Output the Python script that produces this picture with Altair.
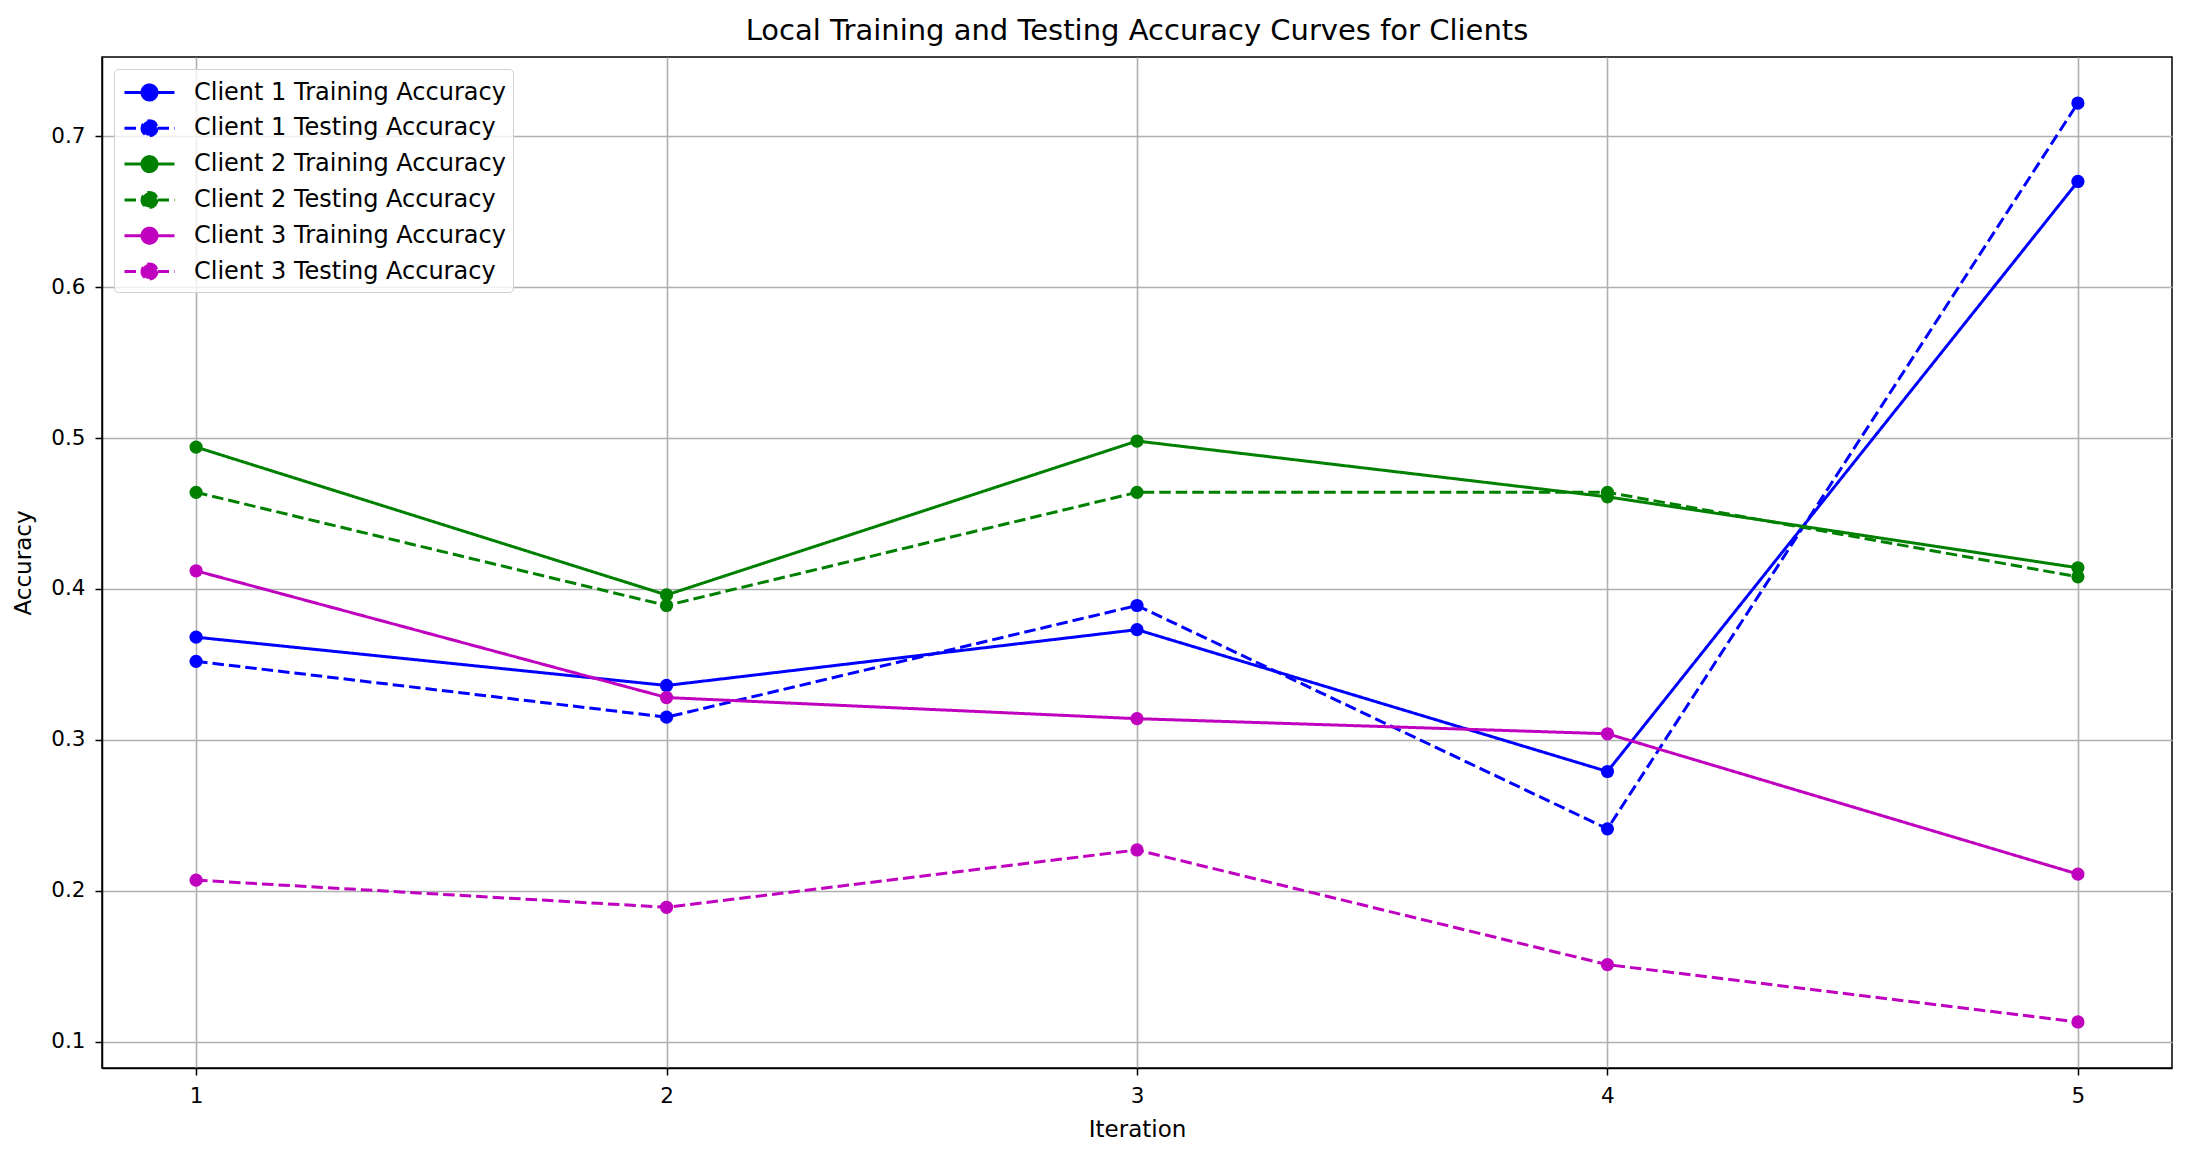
import altair as alt
import pandas as pd

iterations = [1, 2, 3, 4, 5]
series_names = [
    "Client 1 Training Accuracy",
    "Client 1 Testing Accuracy",
    "Client 2 Training Accuracy",
    "Client 2 Testing Accuracy",
    "Client 3 Training Accuracy",
    "Client 3 Testing Accuracy",
]
client1_train = [0.368, 0.336, 0.373, 0.279, 0.670]
client1_test = [0.352, 0.315, 0.389, 0.241, 0.722]
client2_train = [0.494, 0.396, 0.498, 0.461, 0.414]
client2_test = [0.464, 0.389, 0.464, 0.464, 0.408]
client3_train = [0.412, 0.328, 0.314, 0.304, 0.211]
client3_test = [0.207, 0.189, 0.227, 0.151, 0.113]

series_values = [client1_train, client1_test, client2_train, client2_test, client3_train, client3_test]
colors = ["#0000ff", "#0000ff", "#008000", "#008000", "#bf00bf", "#bf00bf"]
dashes = [[1, 0], [11.5, 5], [1, 0], [11.5, 5], [1, 0], [11.5, 5]]

rows = []
for name, vals in zip(series_names, series_values):
    for it, v in zip(iterations, vals):
        rows.append({"iteration": it, "accuracy": v, "series": name})
df = pd.DataFrame(rows)

FONT = "DejaVu Sans"
# line from -5/3 to 5/3 (50px at size 900), circle radius 0.5 (~7.5px)
sym_path = "M-1.667,0L1.667,0M0.5,0A0.5,0.5,0,1,1,-0.5,0A0.5,0.5,0,1,1,0.5,0Z"

legend = alt.Legend(
    title=None, orient="none", legendX=12, legendY=12,
    symbolType=sym_path, symbolSize=900, symbolStrokeWidth=3, symbolOffset=12,
    labelFontSize=24, labelFont=FONT, labelColor="#000000", labelOffset=28,
    fillColor="rgba(255,255,255,0.8)", strokeColor="#d0d0d0", cornerRadius=4,
    padding=7, rowPadding=5.8, labelLimit=0,
)

color_enc = alt.Color("series:N", scale=alt.Scale(domain=series_names, range=colors), legend=legend, sort=series_names)
dash_enc = alt.StrokeDash("series:N", scale=alt.Scale(domain=series_names, range=dashes), legend=legend, sort=series_names)

x_enc = alt.X("iteration:Q", title="Iteration",
              scale=alt.Scale(domain=[0.8, 5.2], nice=False, zero=False),
              axis=alt.Axis(values=iterations, format="d", titlePadding=12))
y_enc = alt.Y("accuracy:Q", title="Accuracy",
              scale=alt.Scale(domain=[0.0825, 0.7525], nice=False, zero=False),
              axis=alt.Axis(values=[0.1, 0.2, 0.3, 0.4, 0.5, 0.6, 0.7], format=".1f", titlePadding=15))

lines = alt.Chart(df).mark_line(strokeWidth=3).encode(
    x=x_enc, y=y_enc, color=color_enc, strokeDash=dash_enc,
)
points = alt.Chart(df).mark_point(filled=True, shape="circle", size=175, opacity=1, strokeWidth=0).encode(
    x=x_enc, y=y_enc, color=color_enc, strokeDash=dash_enc,
)

chart = alt.layer(lines, points).properties(
    width=2070, height=1011,
    title=alt.TitleParams("Local Training and Testing Accuracy Curves for Clients",
                          font=FONT, fontSize=29, fontWeight="normal", color="#000000",
                          anchor="middle", baseline="alphabetic", offset=15, dy=27, frame="group"),
    autosize=alt.AutoSizeParams(type="none"),
    padding={"left": 94, "top": 49, "right": 4, "bottom": 76},
).configure_axis(
    labelFont=FONT, labelFontSize=21.5, labelColor="#000000",
    titleFont=FONT, titleFontSize=23, titleFontWeight="normal", titleColor="#000000",
    domainColor="#000000", domainWidth=1.5,
    tickColor="#000000", tickWidth=1.5, tickSize=7, labelPadding=10,
    grid=True, gridColor="#b0b0b0", gridWidth=1.6,
).configure_view(stroke="#000000", strokeWidth=1.5)

chart.save("out.html", embed_options={"renderer": "svg", "actions": False})
